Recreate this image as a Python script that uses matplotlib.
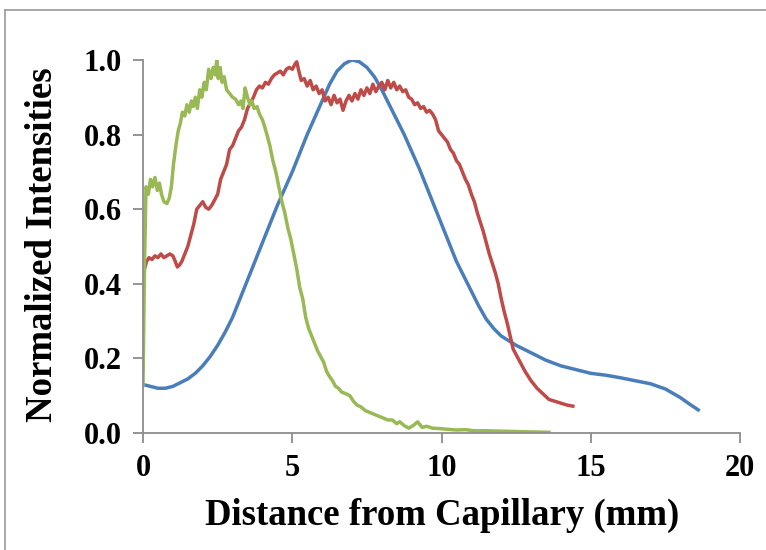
import matplotlib
matplotlib.use("Agg")
import matplotlib.pyplot as plt
from matplotlib.lines import Line2D

plt.rcParams['font.family'] = ['Liberation Serif', 'DejaVu Serif']
plt.rcParams['font.weight'] = 'bold'

# blue curve (smooth)
blue_x = [0.0, 0.25, 0.5, 0.75, 1.0, 1.25, 1.5, 1.75, 2.0, 2.25, 2.5, 2.75, 3.0, 3.25, 3.5,
          3.75, 4.0, 4.25, 4.5, 4.75, 5.0, 5.25, 5.5, 5.75, 6.0, 6.25, 6.5, 6.75, 7.0, 7.25,
          7.5, 7.75, 8.0, 8.25, 8.5, 8.75, 9.0, 9.25, 9.5, 9.75, 10.0, 10.25, 10.5, 10.75,
          11.0, 11.25, 11.5, 11.75, 12.0, 12.5, 13.0, 13.5, 14.0, 14.5, 15.0, 15.5, 16.0,
          16.5, 17.0, 17.5, 18.0, 18.3, 18.6]
blue_y = [0.13, 0.125, 0.12, 0.12, 0.125, 0.135, 0.145, 0.16, 0.18, 0.205, 0.235, 0.27,
          0.31, 0.36, 0.41, 0.46, 0.51, 0.56, 0.61, 0.655, 0.70, 0.75, 0.80, 0.845, 0.89,
          0.935, 0.97, 0.99, 1.0, 0.995, 0.98, 0.955, 0.92, 0.88, 0.84, 0.80, 0.755, 0.71,
          0.66, 0.61, 0.56, 0.51, 0.46, 0.42, 0.38, 0.34, 0.305, 0.28, 0.26, 0.235, 0.215,
          0.195, 0.18, 0.17, 0.16, 0.155, 0.148, 0.14, 0.132, 0.118, 0.095, 0.078, 0.062]

# red curve
red_x = [0.0, 0.05, 0.12, 0.2, 0.3, 0.4, 0.5, 0.6, 0.7, 0.8, 0.9, 1.0, 1.08, 1.15, 1.22,
         1.3, 1.4, 1.5, 1.6, 1.7, 1.8, 1.9, 2.0, 2.1, 2.2, 2.3, 2.4, 2.5, 2.6, 2.7, 2.8,
         2.9, 3.0, 3.1, 3.2, 3.3, 3.4, 3.5, 3.6, 3.7, 3.8, 3.9, 4.0, 4.1, 4.2, 4.3, 4.4,
         4.5, 4.6, 4.7, 4.8, 4.9, 5.0, 5.1, 5.15, 5.22, 5.3, 5.4, 5.5, 5.6, 5.7, 5.8, 5.9,
         6.0, 6.1, 6.2, 6.3, 6.4, 6.5, 6.6, 6.7, 6.8, 6.9, 7.0, 7.1, 7.2, 7.3, 7.4, 7.5,
         7.6, 7.7, 7.8, 7.9, 8.0, 8.1, 8.2, 8.3, 8.4, 8.5, 8.6, 8.7, 8.8, 8.9, 9.0, 9.1,
         9.2, 9.3, 9.4, 9.5, 9.6, 9.7, 9.8, 9.9, 10.0, 10.1, 10.2, 10.3, 10.4, 10.5, 10.6,
         10.7, 10.8, 10.9, 11.0, 11.1, 11.2, 11.3, 11.4, 11.5, 11.6, 11.7, 11.8, 11.9,
         12.0, 12.1, 12.2, 12.3, 12.4, 12.6, 12.8, 13.0, 13.2, 13.4, 13.6, 13.8, 14.0,
         14.2, 14.4]
red_y = [0.39, 0.44, 0.46, 0.47, 0.465, 0.475, 0.47, 0.48, 0.47, 0.475, 0.48, 0.475,
         0.46, 0.445, 0.45, 0.46, 0.48, 0.50, 0.53, 0.56, 0.60, 0.61, 0.62, 0.605, 0.60,
         0.61, 0.625, 0.64, 0.68, 0.70, 0.72, 0.76, 0.77, 0.79, 0.81, 0.82, 0.84, 0.87,
         0.885, 0.90, 0.92, 0.93, 0.925, 0.94, 0.935, 0.95, 0.96, 0.965, 0.97, 0.96, 0.975,
         0.98, 0.975, 0.99, 0.995, 0.97, 0.945, 0.95, 0.93, 0.945, 0.92, 0.93, 0.91, 0.92,
         0.89, 0.90, 0.88, 0.905, 0.885, 0.895, 0.865, 0.89, 0.905, 0.89, 0.91, 0.895,
         0.92, 0.905, 0.925, 0.91, 0.935, 0.915, 0.93, 0.94, 0.92, 0.945, 0.925, 0.94,
         0.92, 0.93, 0.915, 0.92, 0.90, 0.895, 0.88, 0.885, 0.87, 0.875, 0.86, 0.865,
         0.855, 0.84, 0.81, 0.80, 0.79, 0.78, 0.76, 0.75, 0.73, 0.72, 0.70, 0.68, 0.665,
         0.64, 0.62, 0.59, 0.565, 0.54, 0.51, 0.48, 0.455, 0.43, 0.40, 0.36, 0.325, 0.295,
         0.26, 0.225, 0.195, 0.165, 0.14, 0.12, 0.105, 0.09, 0.085, 0.08, 0.075, 0.072]

# green curve
green_x = [0.0, 0.05, 0.1, 0.18, 0.25, 0.32, 0.4, 0.48, 0.55, 0.62, 0.7, 0.8, 0.88, 0.95,
           1.02, 1.1, 1.18, 1.25, 1.32, 1.4, 1.47, 1.55, 1.62, 1.68, 1.75, 1.82, 1.9, 1.97,
           2.05, 2.12, 2.2, 2.28, 2.35, 2.42, 2.47, 2.52, 2.58, 2.65, 2.72, 2.8, 2.9, 3.0,
           3.1, 3.2, 3.28, 3.35, 3.42, 3.5, 3.58, 3.65, 3.72, 3.82, 3.9, 4.0, 4.08, 4.15,
           4.25, 4.35, 4.45, 4.55, 4.65, 4.75, 4.85, 4.95, 5.05, 5.15, 5.25, 5.35, 5.45,
           5.55, 5.65, 5.75, 5.85, 5.95, 6.05, 6.15, 6.26, 6.35, 6.45, 6.55, 6.65, 6.8,
           6.93, 7.05, 7.17, 7.3, 7.45, 7.6, 7.75, 7.9, 8.05, 8.2, 8.35, 8.5, 8.6, 8.75,
           8.9, 9.05, 9.2, 9.35, 9.5, 9.7, 9.9, 10.2, 10.5, 10.8, 11.1, 11.5, 12.0, 12.5,
           13.0, 13.6]
green_y = [0.13, 0.45, 0.66, 0.64, 0.68, 0.66, 0.685, 0.65, 0.67, 0.64, 0.62, 0.615,
           0.63, 0.66, 0.72, 0.77, 0.81, 0.83, 0.86, 0.85, 0.88, 0.86, 0.89, 0.875, 0.90,
           0.87, 0.92, 0.90, 0.94, 0.92, 0.975, 0.95, 0.98, 0.96, 1.0, 0.95, 0.98, 0.94,
           0.955, 0.92, 0.91, 0.90, 0.895, 0.88, 0.89, 0.87, 0.925, 0.90, 0.88, 0.89, 0.87,
           0.875, 0.855, 0.84, 0.82, 0.80, 0.77, 0.73, 0.70, 0.66, 0.62, 0.59, 0.55, 0.52,
           0.48, 0.44, 0.39, 0.36, 0.31, 0.28, 0.26, 0.24, 0.22, 0.205, 0.19, 0.165, 0.15,
           0.14, 0.125, 0.12, 0.11, 0.105, 0.10, 0.085, 0.075, 0.07, 0.06, 0.055, 0.05,
           0.045, 0.04, 0.035, 0.035, 0.025, 0.03, 0.02, 0.013, 0.02, 0.03, 0.015, 0.018,
           0.013, 0.012, 0.01, 0.008, 0.009, 0.006, 0.006, 0.005, 0.004, 0.003, 0.002]

x_ticks = [0, 5, 10, 15, 20]
y_ticks = [0.0, 0.2, 0.4, 0.6, 0.8, 1.0]

fig = plt.figure(figsize=(7.66, 5.5), dpi=100)
ax = fig.add_axes([0.1867, 0.2127, 0.7794, 0.6783])

ax.plot(blue_x, blue_y, color='#4a7ebb', lw=2.5, solid_joinstyle='round')
ax.plot(red_x, red_y, color='#be4b48', lw=2.5, solid_joinstyle='round')
ax.plot(green_x, green_y, color='#98b954', lw=2.5, solid_joinstyle='round')

ax.set_xlim(0, 20)
ax.set_ylim(0, 1.0)
ax.set_xticks(x_ticks)
ax.set_xticklabels([str(t) for t in x_ticks])
ax.set_yticks(y_ticks)
ax.set_yticklabels(['%.1f' % t for t in y_ticks])

for s in ['top', 'right']:
    ax.spines[s].set_visible(False)
for s in ['left', 'bottom']:
    ax.spines[s].set_color('#8c8c8c')
    ax.spines[s].set_linewidth(1.3)
ax.tick_params(direction='out', length=7, width=1.3, color='#8c8c8c',
               labelsize=22, pad=8)

# axis titles placed where they sit in the original
fig.text(0.5777, 1 - 515/550, 'Distance from Capillary (mm)', fontsize=26.5,
         fontweight='bold', ha='center', va='center')
fig.text(43/766, 1 - 245/550, 'Normalized Intensities', fontsize=26.5,
         fontweight='bold', ha='center', va='center', rotation=90)

# outer chart border (only top and left visible)
fig.add_artist(Line2D([5/766, 5/766], [0, 1 - 10/550], color='#9a9a9a', lw=1.2))
fig.add_artist(Line2D([5/766, 1], [1 - 10/550, 1 - 10/550], color='#9a9a9a', lw=1.2))

fig.savefig('out.png', dpi=100)
